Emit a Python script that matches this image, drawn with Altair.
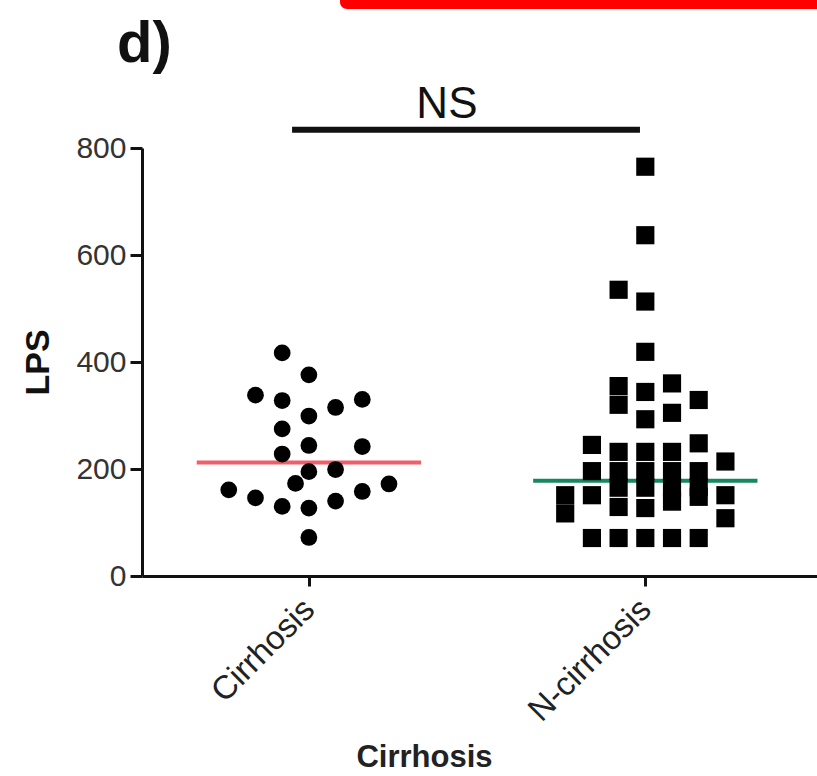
import altair as alt
import pandas as pd

# ---- data ----
groups = ["Cirrhosis", "N-cirrhosis"]

cir_lps = [417, 376, 338, 328, 330, 315, 299, 275, 244, 242, 228, 195, 199,
           173, 161, 172, 158, 146, 140, 130, 127, 72]
cir_slot = [-1, 0, -2, -1, 2, 1, 0, -1, 0, 2, -1, 0, 1,
            -0.5, -3, 3, 2, -2, 1, -1, 0, 0]

ncir_lps = [765, 637, 535, 513, 419, 355, 320, 344, 360, 329, 293, 305,
            245, 232, 232, 232, 248, 214, 196, 196, 196, 196, 196,
            151, 117, 151, 165, 129, 165, 127, 165, 139, 166, 148, 151, 108,
            71, 71, 71, 71, 71]
ncir_slot = [0, 0, -1, 0, 0, -1, -1, 0, 1, 2, 0, 1,
             -2, -1, 0, 1, 2, 3, -2, -1, 0, 1, 2,
             -3, -3, -2, -1, -1, 0, 0, 1, 1, 2, 2, 3, 3,
             -2, -1, 0, 1, 2]

medians = [212, 178]
line_colors = ["#ee5f68", "#16875f"]
ns_level = 834
ns_label = "NS"
y_ticks = [0, 200, 400, 600, 800]

# ---- tables ----
GAP = 12.6   # slot units between group centres
HALF = 4.2   # half-width of the median line in slot units

pts = pd.DataFrame({
    "group": [groups[0]] * len(cir_lps) + [groups[1]] * len(ncir_lps),
    "gi": [0] * len(cir_lps) + [1] * len(ncir_lps),
    "slot": cir_slot + ncir_slot,
    "LPS": cir_lps + ncir_lps,
})
med = pd.DataFrame({"group": groups, "gi": [0, 1], "LPS": medians, "col": line_colors})
ns = pd.DataFrame({"y": [ns_level], "x0": [-0.63], "x1": [12.4], "tx": [5.17], "label": [ns_label]})

xscale = alt.Scale(domain=[-6.25, 19.03], nice=False, zero=False)
yscale = alt.Scale(domain=[0, 800], nice=False)

FONT = "Liberation Sans"

xaxis = alt.Axis(values=[0, GAP],
                 labelExpr="datum.value < 6 ? 'Cirrhosis' : 'N-cirrhosis'",
                 title="Cirrhosis", titleFontSize=31, titleFont=FONT, titleFontWeight="bold",
                 titleColor="#222", titleX=282, titleY=181, titleBaseline="middle",
                 labelAngle=-45, labelAlign="right", labelBaseline="middle",
                 labelFontSize=33, labelFont=FONT, labelColor="#222", labelPadding=18,
                 tickSize=10, tickWidth=3, tickColor="#111",
                 domainWidth=3, domainColor="#111", grid=False, labelFlush=False)
yaxis = alt.Axis(values=y_ticks, title="LPS", titleFontSize=34, titleFont=FONT,
                 titleFontWeight="bold", titleColor="#111", titlePadding=20,
                 labelFontSize=30, labelFont=FONT, labelColor="#333", labelPadding=4,
                 tickSize=12, tickWidth=3, tickColor="#111",
                 domainWidth=3, domainColor="#111", grid=False)

points = alt.Chart(pts).transform_calculate(
    xpos=f"datum.gi * {GAP} + datum.slot"
).mark_point(filled=True, opacity=1, color="black").encode(
    x=alt.X("xpos:Q", scale=xscale, axis=xaxis),
    y=alt.Y("LPS:Q", scale=yscale, axis=yaxis),
    shape=alt.Shape("group:N", scale=alt.Scale(domain=groups, range=["circle", "square"]), legend=None),
    size=alt.Size("group:N", scale=alt.Scale(domain=groups, range=[280, 330]), legend=None),
)

medlines = alt.Chart(med).transform_calculate(
    xa=f"datum.gi * {GAP} - {HALF}", xb=f"datum.gi * {GAP} + {HALF}"
).mark_rule(strokeWidth=4).encode(
    x=alt.X("xa:Q", scale=xscale), x2="xb:Q",
    y=alt.Y("LPS:Q", scale=yscale),
    color=alt.Color("col:N", scale=None, legend=None),
)

nsbar = alt.Chart(ns).mark_rule(strokeWidth=6, color="#111").encode(
    x=alt.X("x0:Q", scale=xscale), x2="x1:Q", y=alt.Y("y:Q", scale=yscale)
)
nstext = alt.Chart(ns).mark_text(fontSize=44, font=FONT, color="#111",
                                 align="center", baseline="alphabetic", dy=-12).encode(
    x=alt.X("tx:Q", scale=xscale), y=alt.Y("y:Q", scale=yscale), text="label:N"
)

panel = alt.Chart(pd.DataFrame({"t": ["d)"]})).mark_text(
    fontSize=58, font=FONT, fontWeight="bold", color="#111", align="left", baseline="alphabetic"
).encode(x=alt.value(-25), y=alt.value(-86), text="t:N")

redbar = alt.Chart(pd.DataFrame({"a": [0]})).mark_rect(color="#ff0000", cornerRadius=7).encode(
    x=alt.value(198), x2=alt.value(690), y=alt.value(-160), y2=alt.value(-139)
)

chart = alt.layer(redbar, panel, nsbar, nstext, medlines, points).properties(
    width=675, height=428,
    autosize=alt.AutoSizeParams(type="none"),
    padding={"left": 142, "top": 148, "right": 0, "bottom": 200},
).configure(background="white").configure_view(stroke=None)

chart.save("out.html", embed_options={"renderer": "svg", "actions": False})
